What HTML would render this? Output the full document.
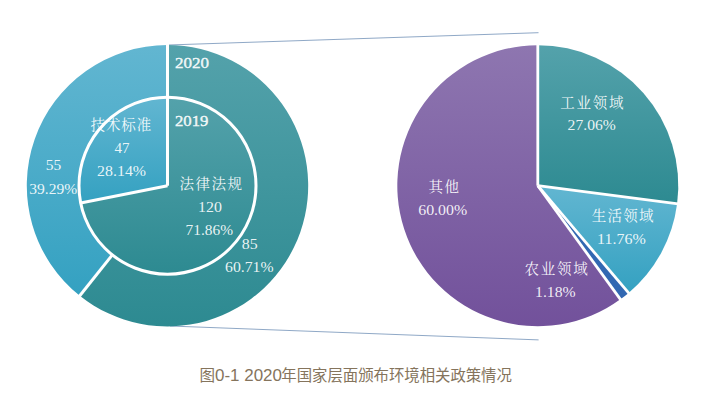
<!DOCTYPE html>
<html lang="zh-CN">
<head>
<meta charset="utf-8">
<title>图0-1 2020年国家层面颁布环境相关政策情况</title>
<style>
html,body{margin:0;padding:0;background:#fff;}
body{width:706px;height:408px;overflow:hidden;font-family:"Liberation Serif",serif;}
svg{display:block;}
.n{font-family:"Liberation Serif",serif;fill:#ffffff;fill-opacity:.9;}
.k{font-family:"Liberation Serif","Noto Serif CJK SC",serif;fill:#ffffff;fill-opacity:.93;}
.cap{font-family:"Liberation Sans","Noto Sans CJK SC",sans-serif;fill:#85745c;}
</style>
</head>
<body>
<svg width="706" height="408" viewBox="0 0 706 408" role="img" aria-label="图0-1 2020年国家层面颁布环境相关政策情况">
<defs>
<linearGradient id="gT" x1="0" y1="0" x2="0" y2="1"><stop offset="0" stop-color="#54a2ab"/><stop offset="1" stop-color="#2d8a91"/></linearGradient>
<linearGradient id="gB" x1="0" y1="0" x2="0" y2="1"><stop offset="0" stop-color="#62b6d1"/><stop offset="1" stop-color="#34a1c1"/></linearGradient>
<linearGradient id="gP" x1="0" y1="0" x2="0" y2="1"><stop offset="0" stop-color="#8e76b0"/><stop offset="1" stop-color="#72519b"/></linearGradient>
<linearGradient id="gL" x1="0" y1="0" x2="1" y2="0"><stop offset="0" stop-color="#5f83ae"/><stop offset="1" stop-color="#5f83ae"/></linearGradient>
</defs>
<rect width="706" height="408" fill="#fff"/>
<line x1="168" y1="45" x2="538.5" y2="32.7" stroke="#5f83ae" stroke-width="0.7" stroke-opacity="1"/>
<line x1="170" y1="326" x2="538.6" y2="339.9" stroke="#5f83ae" stroke-width="0.7" stroke-opacity="1"/>
<path d="M167.50,45.00A140.7,140.7 0 1 1 79.80,295.73L112.34,254.91A88.5,88.5 0 1 0 167.50,97.20Z" fill="url(#gT)"/>
<path d="M79.80,295.73A140.7,140.7 0 0 1 167.50,45.00L167.50,97.20A88.5,88.5 0 0 0 112.34,254.91Z" fill="url(#gB)"/>
<path d="M167.50,185.70L167.50,97.20A88.5,88.5 0 1 1 80.72,203.05Z" fill="url(#gT)"/>
<path d="M167.50,185.70L80.72,203.05A88.5,88.5 0 0 1 167.50,97.20Z" fill="url(#gB)"/>
<g stroke="#fff" stroke-width="3.0" fill="none" stroke-linecap="butt">
<circle cx="167.5" cy="185.7" r="88.5"/>
<line x1="167.5" y1="185.7" x2="167.5" y2="44.0"/>
<line x1="112.34" y1="254.91" x2="79.18" y2="296.51"/>
<line x1="167.5" y1="185.7" x2="80.72" y2="203.05"/>
</g>
<path d="M537.80,185.70L537.80,45.20A140.5,140.5 0 0 1 677.12,203.83Z" fill="url(#gT)"/>
<path d="M537.80,185.70L677.12,203.83A140.5,140.5 0 0 1 628.58,292.94Z" fill="url(#gB)"/>
<path d="M537.80,185.70L628.58,292.94A140.5,140.5 0 0 1 620.38,299.37Z" fill="#3268b2"/>
<path d="M537.80,185.70L620.38,299.37A140.5,140.5 0 1 1 537.80,45.20Z" fill="url(#gP)"/>
<g stroke="#fff" stroke-width="2.8" fill="none">
<line x1="537.8" y1="185.7" x2="537.80" y2="44.20"/>
<line x1="537.8" y1="185.7" x2="678.12" y2="203.96"/>
<line x1="537.8" y1="185.7" x2="629.22" y2="293.70"/>
<line x1="537.8" y1="185.7" x2="620.97" y2="300.18"/>
</g>
<g class="n">
<text x="175.0" y="68.3" font-size="15.5" textLength="34.1" lengthAdjust="spacingAndGlyphs" stroke="#ffffff" stroke-width="0.35">2020</text>
<text x="175.0" y="126.0" font-size="15.5" textLength="33.4" lengthAdjust="spacingAndGlyphs" stroke="#ffffff" stroke-width="0.35">2019</text>
<text x="114.5" y="152.6" font-size="15.3" textLength="15.0" lengthAdjust="spacingAndGlyphs">47</text>
<text x="97.1" y="176.0" font-size="15.3" textLength="49.0" lengthAdjust="spacingAndGlyphs">28.14%</text>
<text x="45.7" y="170.4" font-size="15.3" textLength="15.5" lengthAdjust="spacingAndGlyphs">55</text>
<text x="29.2" y="193.8" font-size="15.3" textLength="48.0" lengthAdjust="spacingAndGlyphs">39.29%</text>
<text x="198.0" y="212.0" font-size="15.3" textLength="23.9" lengthAdjust="spacingAndGlyphs">120</text>
<text x="185.5" y="235.2" font-size="15.3" textLength="47.5" lengthAdjust="spacingAndGlyphs">71.86%</text>
<text x="241.8" y="248.6" font-size="15.3" textLength="15.9" lengthAdjust="spacingAndGlyphs">85</text>
<text x="225.0" y="272.0" font-size="15.3" textLength="48.6" lengthAdjust="spacingAndGlyphs">60.71%</text>
<text x="567.6" y="129.9" font-size="15.3" textLength="48.2" lengthAdjust="spacingAndGlyphs">27.06%</text>
<text x="597.1" y="243.8" font-size="15.3" textLength="48.7" lengthAdjust="spacingAndGlyphs">11.76%</text>
<text x="535.0" y="296.8" font-size="15.3" textLength="40.7" lengthAdjust="spacingAndGlyphs">1.18%</text>
<text x="418.2" y="215.0" font-size="15.3" textLength="49.0" lengthAdjust="spacingAndGlyphs">60.00%</text>
</g>
<g class="k">
<text x="90.5" y="130.2" font-size="14.5" textLength="60.7" lengthAdjust="spacing">技术标准</text>
<text x="179.4" y="189" font-size="14.5" textLength="62.6" lengthAdjust="spacing">法律法规</text>
<text x="560.3" y="107.6" font-size="14.5" textLength="63.2" lengthAdjust="spacing">工业领域</text>
<text x="591.8" y="221.1" font-size="14.5" textLength="61.7" lengthAdjust="spacing">生活领域</text>
<text x="524.6" y="274.2" font-size="14.5" textLength="63.2" lengthAdjust="spacing">农业领域</text>
<text x="428.5" y="191.7" font-size="14.5" textLength="30.6" lengthAdjust="spacing">其他</text>
</g>
<text class="cap" x="199.6" y="380.8" font-size="16" textLength="15.6" lengthAdjust="spacingAndGlyphs">图</text>
<text class="cap" x="215.0" y="380.8" font-size="16" textLength="67.0" lengthAdjust="spacingAndGlyphs" xml:space="preserve">0-1 2020</text>
<text class="cap" x="281.3" y="380.8" font-size="15.4" textLength="230.6" lengthAdjust="spacing">年国家层面颁布环境相关政策情况</text>
</svg>
</body>
</html>
